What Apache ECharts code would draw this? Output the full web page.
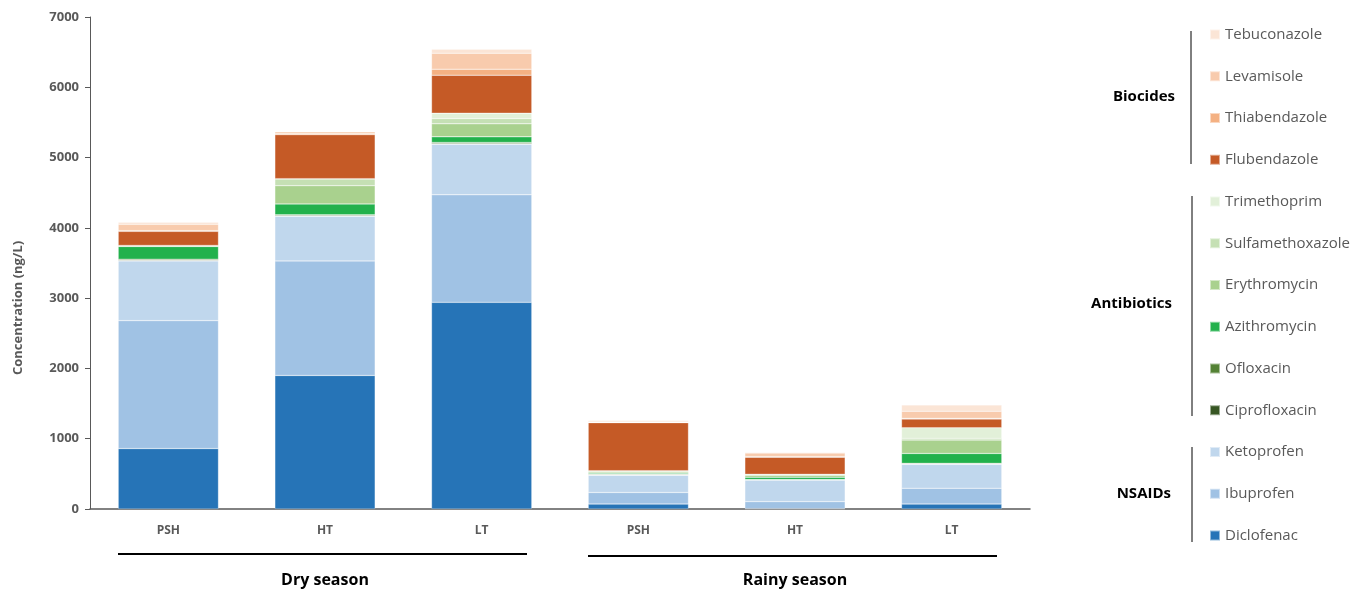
<!DOCTYPE html>
<html>
<head>
<meta charset="utf-8">
<script src="https://cdn.jsdelivr.net/npm/echarts@6/dist/echarts.min.js"></script>
<style>
  html, body { margin: 0; padding: 0; background: #fff; }
  #chart { width: 1367px; height: 594px; }
</style>
</head>
<body>
<div id="chart"></div>
<script>
// sampling sites, dry season first then rainy season
const sites = ['PSH', 'HT', 'LT', 'PSH', 'HT', 'LT'];
const seasons = ['Dry season', 'Rainy season'];

// concentrations (ng/L), stacked bottom to top
const diclofenac       = [860, 1900, 2940, 70, 5, 70];
const ibuprofen        = [1820, 1630, 1530, 165, 100, 225];
const ketoprofen       = [850, 635, 720, 245, 308, 340];
const ciprofloxacin    = [10, 10, 10, 5, 0, 5];
const ofloxacin        = [15, 10, 15, 10, 5, 10];
const azithromycin     = [180, 155, 80, 15, 33, 140];
const erythromycin     = [0, 260, 185, 15, 30, 190];
const sulfamethoxazole = [15, 95, 75, 15, 13, 25];
const trimethoprim     = [0, 5, 77, 5, 0, 150];
const flubendazole     = [200, 626, 540, 683, 242, 125];
const thiabendazole    = [10, 15, 86, 5, 10, 10];
const levamisole       = [90, 25, 227, 15, 50, 100];
const tebuconazole     = [30, 10, 57, 10, 11, 90];

const compounds = [
  { name: 'Diclofenac', data: diclofenac, color: '#2674b7' },
  { name: 'Ibuprofen', data: ibuprofen, color: '#a0c2e4' },
  { name: 'Ketoprofen', data: ketoprofen, color: '#c0d7ed' },
  { name: 'Ciprofloxacin', data: ciprofloxacin, color: '#375623' },
  { name: 'Ofloxacin', data: ofloxacin, color: '#548235' },
  { name: 'Azithromycin', data: azithromycin, color: '#22b14c' },
  { name: 'Erythromycin', data: erythromycin, color: '#a9d18e' },
  { name: 'Sulfamethoxazole', data: sulfamethoxazole, color: '#c5e0b4' },
  { name: 'Trimethoprim', data: trimethoprim, color: '#e2f0d9' },
  { name: 'Flubendazole', data: flubendazole, color: '#c55a26' },
  { name: 'Thiabendazole', data: thiabendazole, color: '#f4b183' },
  { name: 'Levamisole', data: levamisole, color: '#f8cbad' },
  { name: 'Tebuconazole', data: tebuconazole, color: '#fbe5d6' }
];

const yMin = 0, yMax = 7000, yStep = 1000;

const grey = '#595959';
const font = 'Open Sans';

const chart = echarts.init(document.getElementById('chart'));

const option = {
  animation: false,
  backgroundColor: '#fff',
  textStyle: { fontFamily: font },
  grid: { left: 90, right: 337, top: 17, bottom: 85, containLabel: false },
  legend: {
    orient: 'vertical',
    left: 1204,
    top: 22,
    itemWidth: 10,
    itemHeight: 10,
    itemGap: 26.75,
    icon: 'rect',
    selectedMode: false,
    textStyle: { color: grey, fontSize: 15, fontFamily: font },
    data: compounds.map(c => c.name).reverse()
  },
  xAxis: {
    type: 'category',
    data: sites,
    axisLine: { lineStyle: { color: grey, width: 1.5 } },
    axisTick: { show: false },
    axisLabel: { color: grey, fontSize: 12, fontWeight: 'bold', margin: 16 }
  },
  yAxis: {
    type: 'value',
    min: yMin,
    max: yMax,
    interval: yStep,
    splitLine: { show: false },
    axisLine: { show: true, lineStyle: { color: grey, width: 1 } },
    axisTick: { show: true, inside: false, length: 5, lineStyle: { color: grey } },
    axisLabel: { color: grey, fontSize: 13, fontWeight: 'bold', margin: 11, formatter: v => String(v) }
  },
  series: compounds.map(c => ({
    name: c.name,
    type: 'bar',
    stack: 'total',
    barCategoryGap: '36%',
    data: c.data,
    itemStyle: { color: c.color, borderColor: 'rgba(255,255,255,0.5)', borderWidth: 0.5 }
  })),
  graphic: [
    {
      type: 'text', x: 18, y: 308, rotation: Math.PI / 2,
      style: { text: 'Concentration (ng/L)', fill: grey, font: 'bold 13px "Open Sans"', align: 'center', verticalAlign: 'middle' }
    },
    // season brackets
    { type: 'line', shape: { x1: 118, y1: 554, x2: 527, y2: 554 }, style: { stroke: '#000', lineWidth: 2 } },
    { type: 'line', shape: { x1: 588, y1: 556, x2: 997, y2: 556 }, style: { stroke: '#000', lineWidth: 2 } },
    {
      type: 'text', x: 325, y: 580,
      style: { text: seasons[0], fill: '#000', font: 'bold 16px "Open Sans"', align: 'center', verticalAlign: 'middle' }
    },
    {
      type: 'text', x: 795, y: 580,
      style: { text: seasons[1], fill: '#000', font: 'bold 16px "Open Sans"', align: 'center', verticalAlign: 'middle' }
    },
    // compound class groups
    { type: 'line', shape: { x1: 1191, y1: 31, x2: 1191, y2: 164 }, style: { stroke: '#000', lineWidth: 1 } },
    { type: 'line', shape: { x1: 1192, y1: 196, x2: 1192, y2: 416 }, style: { stroke: '#000', lineWidth: 1 } },
    { type: 'line', shape: { x1: 1192, y1: 447, x2: 1192, y2: 542 }, style: { stroke: '#000', lineWidth: 1 } },
    {
      type: 'text', x: 1175, y: 97,
      style: { text: 'Biocides', fill: '#000', font: 'bold 15px "Open Sans"', align: 'right', verticalAlign: 'middle' }
    },
    {
      type: 'text', x: 1172, y: 304,
      style: { text: 'Antibiotics', fill: '#000', font: 'bold 15px "Open Sans"', align: 'right', verticalAlign: 'middle' }
    },
    {
      type: 'text', x: 1171, y: 494,
      style: { text: 'NSAIDs', fill: '#000', font: 'bold 15px "Open Sans"', align: 'right', verticalAlign: 'middle' }
    }
  ]
};

chart.setOption(option);
</script>
</body>
</html>
